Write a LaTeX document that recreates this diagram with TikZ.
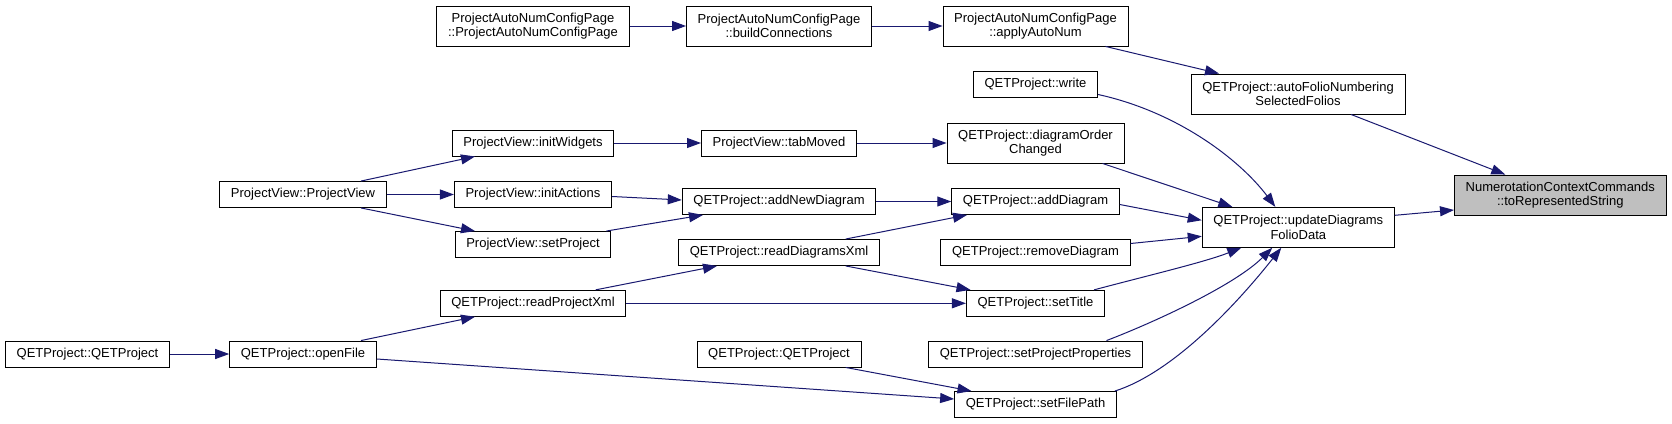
\documentclass[tikz,border=0pt]{standalone}
\usepackage{fontspec}
\setmainfont{Liberation Sans}
\usetikzlibrary{arrows.meta,calc}
\definecolor{edgeblue}{HTML}{191970}
\definecolor{rootgray}{HTML}{BFBFBF}
\begin{document}
\begin{tikzpicture}[x=1pt,y=-1pt,
  box/.style={draw=black,line width=0.9pt,fill=white,inner xsep=11.2pt,inner ysep=0pt,minimum height=26pt,align=center,font=\fontsize{13}{14.3}\selectfont},
  box2/.style={box,minimum height=40pt},
  rootbox/.style={box2,fill=rootgray},
  edge/.style={draw=edgeblue,line width=1pt,-{Triangle[length=14pt,width=10pt]}}]
\useasboundingbox[fill=white] (0,0) rectangle (1672,423);
% rank 6
\node[box] (qetl) at (87.5,354) {QETProject::QETProject};
% rank 5
\node[box] (pvpv) at (303,194.5) {ProjectView::ProjectView};
\node[box] (openf) at (303,354) {QETProject::openFile};
% rank 4
\node[box2] (pancp) at (533,26) {ProjectAutoNumConfigPage\\::ProjectAutoNumConfigPage};
\node[box] (initw) at (533,143) {ProjectView::initWidgets};
\node[box] (inita) at (533,194.5) {ProjectView::initActions};
\node[box] (setp) at (533,244.5) {ProjectView::setProject};
\node[box] (rpx) at (533,303.3) {QETProject::readProjectXml};
% rank 3
\node[box2] (build) at (779,26) {ProjectAutoNumConfigPage\\::buildConnections};
\node[box] (tabm) at (779,143) {ProjectView::tabMoved};
\node[box] (andg) at (779,201.5) {QETProject::addNewDiagram};
\node[box] (rdx) at (779,252.5) {QETProject::readDiagramsXml};
\node[box] (qetm) at (779,354) {QETProject::QETProject};
% rank 2
\node[box2] (apply) at (1035.5,26) {ProjectAutoNumConfigPage\\::applyAutoNum};
\node[box] (write) at (1035.5,84.5) {QETProject::write};
\node[box2] (doc) at (1035.5,143) {QETProject::diagramOrder\\Changed};
\node[box] (addd) at (1035.5,201.5) {QETProject::addDiagram};
\node[box] (remd) at (1035.5,252.5) {QETProject::removeDiagram};
\node[box] (sett) at (1035.5,303.3) {QETProject::setTitle};
\node[box] (spp) at (1035.5,354) {QETProject::setProjectProperties};
\node[box] (sfp) at (1035.5,404.5) {QETProject::setFilePath};
% rank 1
\node[box2] (afn) at (1298,94) {QETProject::autoFolioNumbering\\SelectedFolios};
\node[box2] (upd) at (1298.3,227.3) {QETProject::updateDiagrams\\FolioData};
% rank 0
\node[rootbox] (ncc) at (1560.3,195) {NumerotationContextCommands\\::toRepresentedString};
% edges
\draw[edge] (pancp.east) -- (build.west);
\draw[edge] (build.east) -- (apply.west);
\draw[edge] ($(apply.south)+(70,0)$) -- ($(afn.north)+(-79,0)$);
\draw[edge] ($(afn.south)+(53,0)$) -- ($(ncc.north)+(-55,0)$);
\draw[edge] ($(write.east)+(0,10)$) .. controls (1178,112) and (1240,160) .. ($(upd.north)+(-23,0)$);
\draw[edge] ($(doc.south)+(67,0)$) -- ($(upd.north)+(-66,0)$);
\draw[edge] ($(addd.east)+(0,3)$) -- ($(upd.west)+(0,-7)$);
\draw[edge] ($(remd.east)+(0,-9)$) -- ($(upd.west)+(0,9)$);
\draw[edge] ($(sett.north east)+(-11,0)$) .. controls (1150,275) and (1205,262) .. ($(upd.south)+(-57,0)$);
\draw[edge] ($(spp.north)+(71,0)$) .. controls (1155,322) and (1235,285) .. ($(upd.south)+(-26,0)$);
\draw[edge] ($(sfp.north east)+(-2,0)$) .. controls (1175,372) and (1240,300) .. ($(upd.south)+(-17,0)$);
\draw[edge] ($(upd.east)+(0,-12)$) -- ($(ncc.west)+(0,15)$);
\draw[edge] (initw.east) -- (tabm.west);
\draw[edge] (tabm.east) -- (doc.west);
\draw[edge] ($(pvpv.north)+(58,0)$) -- ($(initw.south)+(-58,0)$);
\draw[edge] (pvpv.east) -- (inita.west);
\draw[edge] ($(pvpv.south)+(58,0)$) -- ($(setp.north)+(-58,0)$);
\draw[edge] ($(inita.east)+(0,2)$) -- ($(andg.west)+(0,-1.5)$);
\draw[edge] ($(setp.north east)+(-5,0)$) -- ($(andg.south)+(-76,0)$);
\draw[edge] (andg.east) -- (addd.west);
\draw[edge] ($(rdx.north)+(66.7,0)$) -- ($(addd.south)+(-68.5,0)$);
\draw[edge] ($(rdx.south)+(66.7,0)$) -- ($(sett.north)+(-65,0)$);
\draw[edge] ($(rpx.north)+(62.7,0)$) -- ($(rdx.south)+(-62,0)$);
\draw[edge] (rpx.east) -- (sett.west);
\draw[edge] ($(openf.north)+(58,0)$) -- ($(rpx.south)+(-58,0)$);
\draw[edge] ($(openf.east)+(0,5)$) -- ($(sfp.west)+(0,-5.5)$);
\draw[edge] (qetl.east) -- (openf.west);
\draw[edge] ($(qetm.south)+(66.7,0)$) -- ($(sfp.north)+(-64,0)$);
\end{tikzpicture}
\end{document}
